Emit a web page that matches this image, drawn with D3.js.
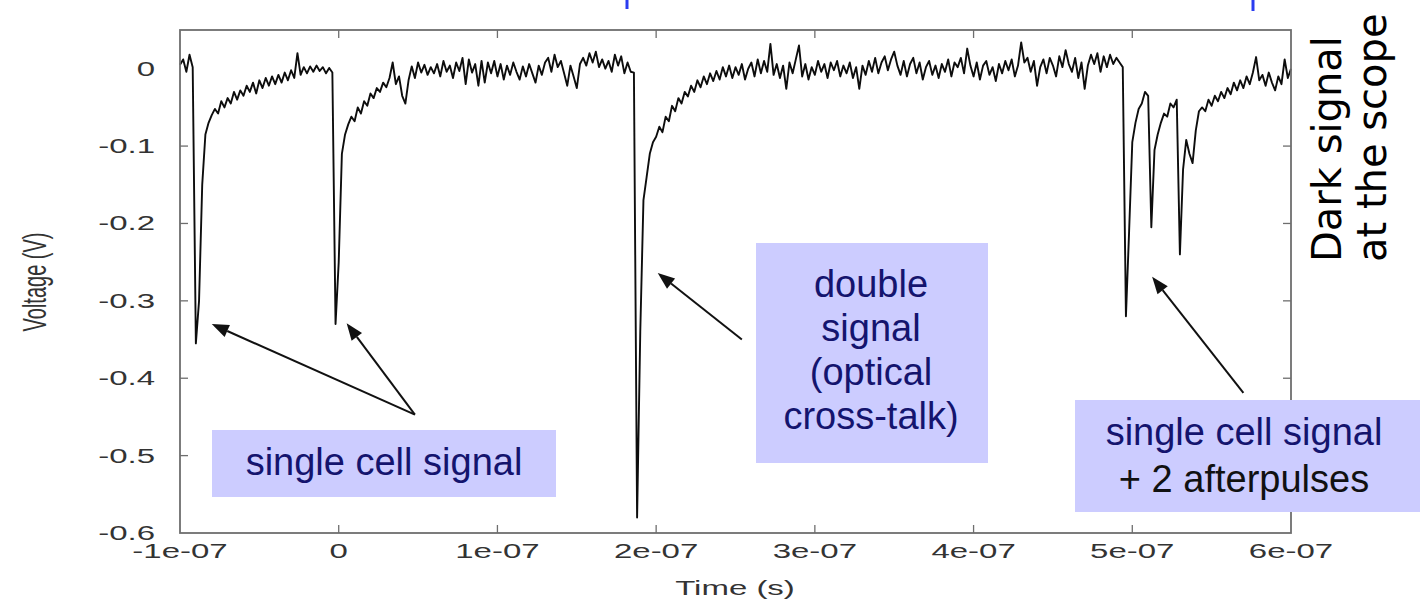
<!DOCTYPE html>
<html>
<head>
<meta charset="utf-8">
<script src="https://cdn.jsdelivr.net/npm/d3@7"></script>
<style>
  body { margin: 0; background: #fff; }
  svg { display: block; }
</style>
</head>
<body>
<svg id="chart" width="1422" height="602"></svg>
<script>
// scope trace: one sample every 2 ns starting at -100 ns, values in mV
const sampleStartNs = -100
const sampleStepNs = 2
const voltageMv = [
  5, 12, -4, 18, 2, -355, -300, -150, -85, -70,
  -60, -52, -58, -42, -50, -38, -45, -30, -40, -28,
  -35, -22, -30, -18, -32, -15, -25, -12, -22, -10,
  -20, -8, -18, -5, -15, -2, -12, 20, -8, 2,
  -6, 3, -4, 4, -3, 2, -6, 1, -5, -330,
  -250, -110, -85, -72, -62, -68, -50, -58, -42, -48,
  -32, -38, -25, -30, -18, -24, -12, 8, -20, -10,
  -35, -45, -15, 3, -12, 8, -5, 5, -8, 2,
  -6, 6, -10, 10, -4, 4, -12, 8, -3, 14,
  -20, 12, -5, 6, -22, 10, -18, 8, -6, 10,
  -10, 6, -14, 4, -8, 8, -4, -14, 3, -10,
  6, -6, -18, 4, -8, 8, 14, -4, 18, 2,
  10, -6, -22, 4, -10, -25, 6, 14, 4, 20,
  8, 22, 2, 12, 0, 10, -4, 18, 4, 16,
  -6, 8, -4, -5, -580, -340, -170, -140, -110, -95,
  -88, -75, -82, -62, -68, -48, -55, -38, -45, -30,
  -36, -22, -30, -15, -24, -10, -20, -6, -16, -3,
  -14, 2, -10, 4, -12, 2, -8, 6, -14, 0,
  8, -10, 12, -6, 10, -4, 32, -8, 6, -12,
  4, -26, 8, -6, 12, 30, -10, 6, -14, 2,
  -8, 10, -4, 6, -12, 8, -2, 10, -10, 4,
  -6, 8, -12, 2, -26, 4, -8, 10, -4, 14,
  -6, 8, 16, -2, 12, 22, 4, -8, 10, -10,
  6, 14, -6, 8, -14, 2, 10, -8, 4, -12,
  6, -4, 12, -10, 8, 2, 14, -6, 26, 4,
  -10, 8, -14, 4, 10, -8, 2, -16, 6, -6,
  10, -2, 12, -10, 4, 34, 8, 14, -4, 10,
  -22, 2, 12, -6, 14, 4, -10, 16, 2, 24,
  6, -4, 14, -12, 8, -26, 4, 18, 6, 20,
  -4, 16, 2, 18, 6, 14, 8, 2, -320, -210,
  -95, -70, -52, -45, -30, -35, -205, -105, -85, -70,
  -58, -62, -45, -50, -40, -240, -130, -92, -110, -122,
  -80, -55, -50, -55, -40, -48, -35, -42, -30, -38,
  -25, -33, -18, -28, -15, -25, -10, -20, -5, 15,
  -15, -8, -22, -5, -18, -28, -10, -20, 12, -12,
  0
]

const xTicks = [-1e-7, 0, 1e-7, 2e-7, 3e-7, 4e-7, 5e-7, 6e-7]
const xTickLabels = ['-1e-07', '0', '1e-07', '2e-07', '3e-07', '4e-07', '5e-07', '6e-07']
const yTicks = [0, -0.1, -0.2, -0.3, -0.4, -0.5, -0.6]
const yTickLabels = ['0', '-0.1', '-0.2', '-0.3', '-0.4', '-0.5', '-0.6']

// annotation texts and the points their arrows go from / to (time in s, voltage in V)
const boxTexts = [
  ['single cell signal'],
  ['double', 'signal', '(optical', 'cross-talk)'],
  ['single cell signal', '+ 2 afterpulses']
]
const arrowTips = [[-80e-9, -0.33], [5e-9, -0.329], [201e-9, -0.264], [512.5e-9, -0.269]]
const arrowTails = [[48e-9, -0.447], [48e-9, -0.447], [254e-9, -0.35], [570e-9, -0.419]]

const svg = d3.select('#chart')
const plotLeft = 180, plotRight = 1291, plotTop = 30, plotBottom = 533
const stretch = 1.65   // the original plot is squeezed wide

const x = d3.scaleLinear().domain([-1e-7, 6e-7]).range([plotLeft, plotRight])
const y = d3.scaleLinear().domain([-0.6, 0.05]).range([plotBottom, plotTop])

svg.append('rect')
  .attr('width', 1422).attr('height', 602).attr('fill', '#fff')

// blue strokes left over from a title cut off above the picture
svg.selectAll('.titlebit')
  .data([[627, 9], [1253, 11]])
  .enter().append('line')
  .attr('class', 'titlebit')
  .attr('x1', d => d[0]).attr('x2', d => d[0])
  .attr('y1', 0).attr('y2', d => d[1])
  .attr('stroke', '#2a3cf0').attr('stroke-width', 3)

// trace
let points = voltageMv.map((v, i) => [(sampleStartNs + i * sampleStepNs) * 1e-9, v / 1000])
let line = d3.line()
  .x(d => x(d[0]))
  .y(d => y(d[1]))
svg.append('path')
  .datum(points)
  .attr('fill', 'none')
  .attr('stroke', '#0d0d0d')
  .attr('stroke-width', 1.9)
  .attr('stroke-linejoin', 'round')
  .attr('d', line)

// frame and inward ticks
svg.append('rect')
  .attr('x', plotLeft).attr('y', plotTop)
  .attr('width', plotRight - plotLeft).attr('height', plotBottom - plotTop)
  .attr('fill', 'none').attr('stroke', '#6e6e6e').attr('stroke-width', 1.8)

let ticks = svg.append('g').attr('stroke', '#6e6e6e').attr('stroke-width', 1.3)
xTicks.slice(1, -1).forEach(t => {
  ticks.append('line').attr('x1', x(t)).attr('x2', x(t)).attr('y1', plotBottom).attr('y2', plotBottom - 8)
  ticks.append('line').attr('x1', x(t)).attr('x2', x(t)).attr('y1', plotTop).attr('y2', plotTop + 8)
})
yTicks.slice(1, -1).forEach(v => {
  ticks.append('line').attr('x1', plotLeft).attr('x2', plotLeft + 8).attr('y1', y(v)).attr('y2', y(v))
  ticks.append('line').attr('x1', plotRight).attr('x2', plotRight - 8).attr('y1', y(v)).attr('y2', y(v))
})

function wideText(px, py, str, anchor, rot) {
  let g = svg.append('g')
    .attr('transform', 'translate(' + px + ',' + py + ') scale(' + stretch + ',1)' + (rot ? ' rotate(' + rot + ')' : ''))
  g.append('text')
    .attr('text-anchor', anchor)
    .attr('font-family', 'Liberation Sans, Arial, sans-serif')
    .attr('font-size', 20)
    .attr('fill', '#333')
    .text(str)
}

yTicks.forEach((v, i) => wideText(155, y(v) + 7, yTickLabels[i], 'end'))
xTicks.forEach((t, i) => wideText(x(t), 558, xTickLabels[i], 'middle'))
wideText(735, 595, 'Time (s)', 'middle')
wideText(46, 282, 'Voltage (V)', 'middle', -90)

// right side caption
let cap = svg.append('g')
  .attr('font-family', 'DejaVu Sans, Verdana, sans-serif')
  .attr('font-size', 40)
  .attr('fill', '#000')
cap.append('text').attr('transform', 'translate(1341,262) rotate(-90)').text('Dark signal')
cap.append('text').attr('transform', 'translate(1386,262) rotate(-90)').text('at the scope')

// annotation boxes
const boxes = [
  { x: 212, y: 430, w: 344, h: 67, cx: 384, base: 475, lh: 0 },
  { x: 756, y: 243, w: 232, h: 220, cx: 871, base: 297, lh: 44 },
  { x: 1075, y: 400, w: 345, h: 112, cx: 1244, base: 445, lh: 47 }
]
boxes.forEach((b, i) => {
  svg.append('rect')
    .attr('x', b.x).attr('y', b.y).attr('width', b.w).attr('height', b.h)
    .attr('fill', '#ccccff')
  boxTexts[i].forEach((s, j) => {
    svg.append('text')
      .attr('x', b.cx).attr('y', b.base + j * b.lh)
      .attr('text-anchor', 'middle')
      .attr('font-family', 'Liberation Sans, Arial, sans-serif')
      .attr('font-size', 38)
      .attr('fill', s.startsWith('+') ? '#111' : '#14146e')
      .text(s)
  })
})

// arrows
arrowTips.forEach((tip, i) => {
  let x2 = x(tip[0]), y2 = y(tip[1])
  let x1 = x(arrowTails[i][0]), y1 = y(arrowTails[i][1])
  let dx = x2 - x1, dy = y2 - y1
  let len = Math.sqrt(dx * dx + dy * dy)
  let ux = dx / len, uy = dy / len
  let hl = 17, hw = 6.5
  let bx = x2 - ux * hl, by = y2 - uy * hl
  svg.append('line')
    .attr('x1', x1).attr('y1', y1).attr('x2', bx).attr('y2', by)
    .attr('stroke', '#111').attr('stroke-width', 2)
  svg.append('path')
    .attr('d', 'M' + x2 + ',' + y2 +
      'L' + (bx - uy * hw) + ',' + (by + ux * hw) +
      'L' + (bx + uy * hw) + ',' + (by - ux * hw) + 'Z')
    .attr('fill', '#111')
})
</script>
</body>
</html>
